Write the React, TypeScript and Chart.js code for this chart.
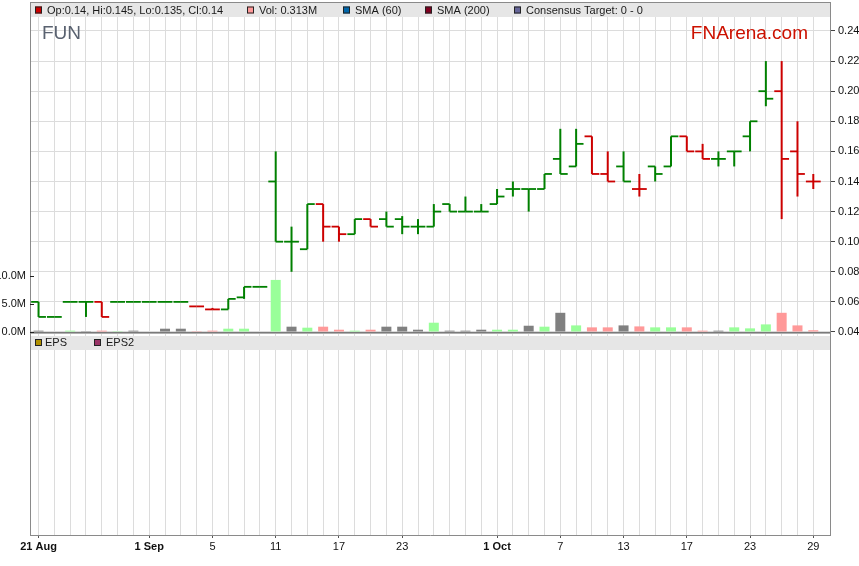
import React, { useEffect, useRef } from 'react';
import { Chart, registerables } from 'chart.js';

Chart.register(...registerables);

// ---- data ----
const dates = [
  '21 Aug', '22 Aug', '25 Aug', '26 Aug', '27 Aug', '28 Aug', '29 Aug',
  '1 Sep', '2 Sep', '3 Sep', '4 Sep', '5 Sep', '8 Sep', '9 Sep', '10 Sep', '11 Sep', '12 Sep',
  '15 Sep', '16 Sep', '17 Sep', '18 Sep', '19 Sep', '22 Sep', '23 Sep', '24 Sep', '25 Sep',
  '26 Sep', '29 Sep', '30 Sep',
  '1 Oct', '2 Oct', '3 Oct', '6 Oct', '7 Oct', '8 Oct', '9 Oct', '10 Oct', '13 Oct', '14 Oct',
  '15 Oct', '16 Oct', '17 Oct', '20 Oct', '21 Oct', '22 Oct', '23 Oct', '24 Oct', '27 Oct',
  '28 Oct', '29 Oct',
];

const opens = [
  0.06, 0.05, 0.06, 0.06, 0.06, 0.06, 0.06, 0.06, 0.06, 0.06,
  0.057, 0.055, 0.055, 0.063, 0.07, 0.14, 0.10, 0.095, 0.125, 0.11,
  0.105, 0.115, 0.115, 0.115, 0.11, 0.11, 0.125, 0.12, 0.12, 0.125,
  0.135, 0.135, 0.135, 0.155, 0.15, 0.17, 0.145, 0.15, 0.135, 0.15,
  0.15, 0.17, 0.16, 0.155, 0.16, 0.17, 0.20, 0.20, 0.16, 0.14,
];
const highs = [
  0.06, 0.05, 0.06, 0.06, 0.06, 0.06, 0.06, 0.06, 0.06, 0.06,
  0.057, 0.056, 0.062, 0.07, 0.07, 0.16, 0.11, 0.125, 0.125, 0.11,
  0.115, 0.115, 0.12, 0.117, 0.115, 0.125, 0.125, 0.13, 0.125, 0.135,
  0.14, 0.135, 0.145, 0.175, 0.175, 0.17, 0.16, 0.16, 0.145, 0.15,
  0.17, 0.17, 0.165, 0.16, 0.16, 0.18, 0.22, 0.22, 0.18, 0.145,
];
const lows = [
  0.05, 0.05, 0.06, 0.05, 0.05, 0.06, 0.06, 0.06, 0.06, 0.06,
  0.057, 0.055, 0.055, 0.062, 0.07, 0.10, 0.08, 0.095, 0.10, 0.10,
  0.105, 0.11, 0.11, 0.105, 0.105, 0.11, 0.12, 0.12, 0.12, 0.125,
  0.13, 0.12, 0.135, 0.145, 0.15, 0.145, 0.14, 0.14, 0.13, 0.14,
  0.15, 0.16, 0.155, 0.15, 0.15, 0.16, 0.19, 0.115, 0.13, 0.135,
];
const closes = [
  0.05, 0.05, 0.06, 0.06, 0.05, 0.06, 0.06, 0.06, 0.06, 0.06,
  0.057, 0.055, 0.062, 0.07, 0.07, 0.10, 0.10, 0.125, 0.11, 0.105,
  0.115, 0.11, 0.11, 0.11, 0.11, 0.12, 0.12, 0.12, 0.12, 0.13,
  0.135, 0.135, 0.145, 0.145, 0.165, 0.145, 0.14, 0.14, 0.135, 0.145,
  0.17, 0.16, 0.155, 0.155, 0.16, 0.18, 0.195, 0.155, 0.145, 0.14,
];
// volume in millions
const volumes = [
  0.24, 0, 0.24, 0.03, 0.24, 0.03, 0.24, 0, 0.59, 0.59,
  0.03, 0.24, 0.59, 0.59, 0, 9.3, 0.95, 0.77, 0.95, 0.41,
  0.24, 0.41, 0.95, 0.95, 0.41, 1.66, 0.24, 0.24, 0.41, 0.41,
  0.41, 1.12, 0.95, 3.43, 1.18, 0.83, 0.83, 1.18, 1.0, 0.83,
  0.83, 0.83, 0.24, 0.24, 0.83, 0.65, 1.36, 3.43, 1.18, 0.313,
];
const prevClose0 = 0.05;

const tickIdx = [0, 7, 11, 15, 19, 23, 29, 33, 37, 41, 45, 49];
const tickLabels = ['21 Aug', '1 Sep', '5', '11', '17', '23', '1 Oct', '7', '13', '17', '23', '29'];
const priceTicks = [0.04, 0.06, 0.08, 0.10, 0.12, 0.14, 0.16, 0.18, 0.20, 0.22, 0.24];
const volTicks = [0, 5, 10];
const volTickLabels = ['0.0M', '5.0M', '10.0M'];

// ---- styles ----
const FONT = '"Liberation Sans", Arial, Helvetica, sans-serif';
const GREEN = '#008000';
const RED = '#cc0000';
const VGREEN = '#99ff99';
const VPINK = '#ff9999';
const VGRAY = '#808080';
const GRID = '#dcdcdc';
const TICK_HALF = 0.0006;

const dir = closes.map((c, i) => {
  const p = i === 0 ? prevClose0 : closes[i - 1];
  return c > p ? 1 : c < p ? -1 : 0;
});
const priceColors = dir.map((d) => (d < 0 ? RED : GREEN));
const volColors = dir.map((d) => (d > 0 ? VGREEN : d < 0 ? VPINK : VGRAY));

const topLegend = [
  { sx: 35, tx: 47, color: '#cc0000', text: `Op:${opens[49]}, Hi:${highs[49]}, Lo:${lows[49]}, Cl:${closes[49]}` },
  { sx: 247, tx: 259, color: '#ff9999', text: `Vol: ${volumes[49].toFixed(3)}M` },
  { sx: 343, tx: 355, color: '#0066aa', text: 'SMA (60)' },
  { sx: 425, tx: 437, color: '#800020', text: 'SMA (200)' },
  { sx: 514, tx: 526, color: '#666699', text: 'Consensus Target: 0 - 0' },
];
const epsLegend = [
  { sx: 35, tx: 45, color: '#b09000', text: 'EPS' },
  { sx: 94, tx: 106, color: '#993366', text: 'EPS2' },
];

const framePlugin = {
  id: 'frame',
  afterDraw(chart: any) {
    const { ctx, chartArea: a, scales } = chart;
    const L = a.left, R = a.right, T = a.top, B = a.bottom;
    const yp = scales.yp, yv = scales.yv;
    const sepY = Math.round(yp.getPixelForValue(priceTicks[0]));
    ctx.save();
    // legend bands
    ctx.fillStyle = '#e6e6e6';
    ctx.fillRect(L, 2, R - L, T - 2);
    ctx.fillRect(L, sepY + 4, R - L, 14);
    // panel separator
    ctx.fillStyle = '#7a7a7a';
    ctx.fillRect(L, sepY, R - L, 1);
    ctx.fillStyle = '#b0b0b0';
    ctx.fillRect(L, sepY + 1, R - L, 1);
    // frame
    ctx.strokeStyle = '#8a8a8a';
    ctx.lineWidth = 1;
    ctx.beginPath();
    ctx.moveTo(L + 0.5, 2);
    ctx.lineTo(L + 0.5, B + 1);
    ctx.moveTo(R - 0.5, 2);
    ctx.lineTo(R - 0.5, B + 1);
    ctx.moveTo(L, 2.5);
    ctx.lineTo(R, 2.5);
    ctx.moveTo(L, B + 0.5);
    ctx.lineTo(R, B + 0.5);
    ctx.stroke();
    // inside ticks of the volume axis
    ctx.strokeStyle = '#222';
    ctx.beginPath();
    volTicks.forEach((v) => {
      const y = Math.round(yv.getPixelForValue(v)) + 0.5;
      ctx.moveTo(L, y);
      ctx.lineTo(L + 4, y);
    });
    ctx.stroke();
    // legend items
    ctx.font = `11px ${FONT}`;
    ctx.textBaseline = 'middle';
    ctx.textAlign = 'left';
    const drawItem = (it: any, cy: number) => {
      ctx.fillStyle = it.color;
      ctx.fillRect(it.sx, cy - 3.5, 7, 7);
      ctx.strokeStyle = '#222';
      ctx.strokeRect(it.sx + 0.5, cy - 3, 6, 6);
      ctx.fillStyle = '#1a1a1a';
      ctx.fillText(it.text, it.tx, cy + 0.5);
    };
    topLegend.forEach((it) => drawItem(it, 10));
    epsLegend.forEach((it) => drawItem(it, sepY + 10.5));
    // titles
    ctx.textBaseline = 'alphabetic';
    ctx.font = `19px ${FONT}`;
    ctx.fillStyle = '#5a6270';
    ctx.fillText('FUN', 42, 39);
    ctx.textAlign = 'right';
    ctx.fillStyle = '#cc1100';
    ctx.fillText('FNArena.com', 808, 38.5);
    ctx.restore();
  },
};

export default function App() {
  const ref = useRef<HTMLCanvasElement | null>(null);
  useEffect(() => {
    if (!ref.current) return;
    const idx = dates.map((_, i) => i);
    const chart = new Chart(ref.current, {
      type: 'bar',
      data: {
        datasets: [
          {
            label: 'Vol',
            data: idx.map((i) => ({ x: i, y: volumes[i] })) as any,
            yAxisID: 'yv',
            backgroundColor: volColors,
            barThickness: 10,
            grouped: false,
            order: 3,
            inflateAmount: 0,
          } as any,
          {
            label: 'HL',
            data: idx.map((i) => ({ x: i, y: [lows[i], highs[i]] })) as any,
            yAxisID: 'yp',
            backgroundColor: priceColors,
            barThickness: 2,
            grouped: false,
            order: 2,
            inflateAmount: 0,
          } as any,
          {
            label: 'Open',
            data: idx.map((i) => ({ x: i, y: [opens[i] - TICK_HALF, opens[i] + TICK_HALF] })) as any,
            yAxisID: 'yp',
            backgroundColor: priceColors,
            barThickness: 7.4,
            stack: 'open',
            order: 1,
            inflateAmount: 0,
          } as any,
          {
            label: 'Close',
            data: idx.map((i) => ({ x: i, y: [closes[i] - TICK_HALF, closes[i] + TICK_HALF] })) as any,
            yAxisID: 'yp',
            backgroundColor: priceColors,
            barThickness: 7.4,
            stack: 'close',
            order: 1,
            inflateAmount: 0,
          } as any,
        ],
      },
      options: {
        responsive: false,
        animation: false,
        events: [],
        layout: { padding: { top: 17, left: 0, right: 0, bottom: 0 } },
        plugins: { legend: { display: false }, tooltip: { enabled: false } },
        scales: {
          x: {
            type: 'linear',
            position: 'bottom',
            min: -0.54,
            max: 50.12,
            offset: false,
            grid: {
              offset: false,
              color: GRID,
              tickLength: 3,
              tickColor: (c: any) => (c.tick && tickIdx.includes(c.tick.value) ? '#555' : 'rgba(0,0,0,0)'),
            },
            border: { display: false },
            afterBuildTicks: (s: any) => {
              s.ticks = idx.map((v) => ({ value: v }));
            },
            afterFit: (s: any) => {
              s.height = 31;
              s.paddingLeft = 0;
              s.paddingRight = 0;
            },
            ticks: {
              autoSkip: false,
              maxRotation: 0,
              minRotation: 0,
              padding: 2,
              color: '#111',
              font: (c: any) => ({
                family: FONT,
                size: 11,
                weight: c.tick && /\s/.test(String(c.tick.label)) ? 'bold' : 'normal',
              }),
              callback: (v: any) => {
                const k = tickIdx.indexOf(Number(v));
                return k >= 0 ? tickLabels[k] : '';
              },
            },
          } as any,
          yp: {
            type: 'linear',
            position: 'right',
            min: -0.0949,
            max: 0.2493,
            grid: { color: GRID, tickColor: '#444', tickLength: 4 },
            border: { display: false },
            afterBuildTicks: (s: any) => {
              s.ticks = priceTicks.map((v) => ({ value: v }));
            },
            afterFit: (s: any) => {
              s.width = 28;
              s.paddingTop = 0;
              s.paddingBottom = 0;
            },
            ticks: {
              padding: 3,
              color: '#111',
              font: { family: FONT, size: 11 },
              callback: (v: any) => Number(v).toFixed(2),
            },
          } as any,
          yv: {
            type: 'linear',
            position: 'left',
            min: -36.25,
            max: 56.25,
            grid: { drawOnChartArea: false, drawTicks: false },
            border: { display: false },
            afterBuildTicks: (s: any) => {
              s.ticks = volTicks.map((v) => ({ value: v }));
            },
            afterFit: (s: any) => {
              s.width = 30;
              s.paddingTop = 0;
              s.paddingBottom = 0;
            },
            ticks: {
              padding: 4,
              color: '#111',
              font: { family: FONT, size: 11 },
              callback: (v: any) => {
                const k = volTicks.indexOf(Number(v));
                return k >= 0 ? volTickLabels[k] : '';
              },
            },
          } as any,
        },
      },
      plugins: [framePlugin],
    });
    return () => chart.destroy();
  }, []);

  return (
    <div style={{ position: 'absolute', left: 0, top: 0, width: 859, height: 566, background: '#fff' }}>
      <canvas ref={ref} width={859} height={566} style={{ display: 'block' }} />
    </div>
  );
}
